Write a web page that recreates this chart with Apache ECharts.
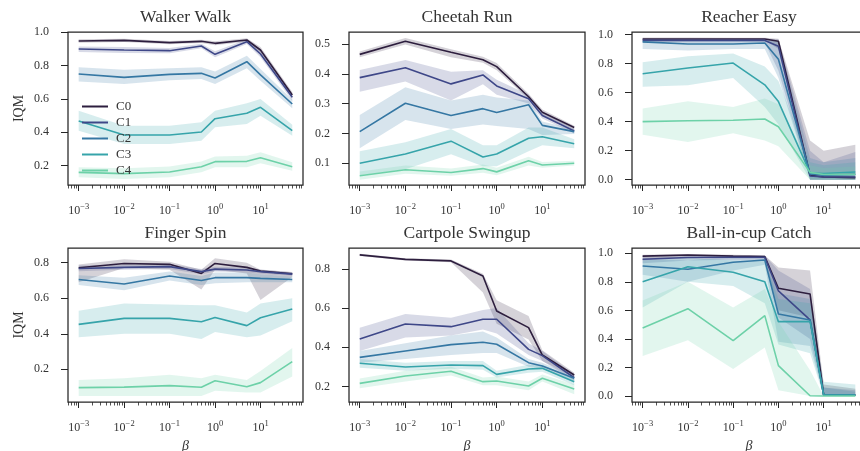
<!DOCTYPE html>
<html><head><meta charset="utf-8">
<script src="https://cdn.jsdelivr.net/npm/echarts@6/dist/echarts.min.js"></script>
<style>html,body{margin:0;padding:0;background:#fff}#c{width:860px;height:451px}</style>
</head><body><div id="c"></div><script>
// ---------- data ----------
const betas = [0.001, 0.01, 0.1, 0.5, 1, 5, 10, 50];
const seriesNames = ['C0', 'C1', 'C2', 'C3', 'C4'];
const panelTitles = ['Walker Walk', 'Cheetah Run', 'Reacher Easy', 'Finger Spin', 'Cartpole Swingup', 'Ball-in-cup Catch'];
const xTickExponents = [-3, -2, -1, 0, 1];
const yTicksWalker = [0.2, 0.4, 0.6, 0.8, 1.0];
const yTicksCheetah = [0.1, 0.2, 0.3, 0.4, 0.5];
const yTicksReacher = [0.0, 0.2, 0.4, 0.6, 0.8, 1.0];
const yTicksFinger = [0.2, 0.4, 0.6, 0.8];
const yTicksCartpole = [0.2, 0.4, 0.6, 0.8];
const yTicksBall = [0.0, 0.2, 0.4, 0.6, 0.8, 1.0];

// Walker Walk
const walkerMean = [
  [0.948, 0.952, 0.938, 0.946, 0.934, 0.954, 0.894, 0.624],
  [0.900, 0.894, 0.890, 0.918, 0.868, 0.944, 0.870, 0.610],
  [0.750, 0.730, 0.748, 0.754, 0.726, 0.824, 0.745, 0.570],
  [0.468, 0.384, 0.384, 0.402, 0.482, 0.514, 0.550, 0.410],
  [0.160, 0.152, 0.162, 0.194, 0.224, 0.226, 0.248, 0.194]];
const walkerLo = [
  [0.938, 0.942, 0.928, 0.936, 0.922, 0.944, 0.875, 0.605],
  [0.882, 0.876, 0.874, 0.904, 0.850, 0.930, 0.850, 0.590],
  [0.705, 0.690, 0.712, 0.720, 0.690, 0.785, 0.710, 0.545],
  [0.410, 0.330, 0.330, 0.350, 0.430, 0.450, 0.500, 0.380],
  [0.130, 0.120, 0.130, 0.160, 0.190, 0.190, 0.215, 0.170]];
const walkerHi = [
  [0.958, 0.962, 0.948, 0.956, 0.946, 0.964, 0.912, 0.642],
  [0.915, 0.912, 0.906, 0.932, 0.886, 0.958, 0.890, 0.630],
  [0.790, 0.775, 0.785, 0.790, 0.765, 0.860, 0.780, 0.595],
  [0.530, 0.440, 0.440, 0.460, 0.530, 0.575, 0.600, 0.445],
  [0.190, 0.185, 0.195, 0.225, 0.255, 0.260, 0.280, 0.220]];

// Cheetah Run
const cheetahMean = [
  [0.465, 0.509, 0.472, 0.447, 0.424, 0.323, 0.271, 0.220],
  [0.387, 0.420, 0.366, 0.396, 0.359, 0.316, 0.260, 0.208],
  [0.206, 0.301, 0.260, 0.283, 0.270, 0.296, 0.227, 0.206],
  [0.100, 0.131, 0.174, 0.121, 0.131, 0.184, 0.189, 0.165],
  [0.058, 0.078, 0.069, 0.082, 0.071, 0.108, 0.094, 0.100]];
const cheetahLo = [
  [0.455, 0.498, 0.455, 0.437, 0.412, 0.315, 0.262, 0.212],
  [0.340, 0.374, 0.310, 0.365, 0.330, 0.300, 0.250, 0.200],
  [0.150, 0.245, 0.215, 0.230, 0.225, 0.215, 0.195, 0.198],
  [0.060, 0.080, 0.130, 0.090, 0.090, 0.140, 0.160, 0.150],
  [0.045, 0.065, 0.058, 0.068, 0.060, 0.092, 0.085, 0.092]];
const cheetahHi = [
  [0.475, 0.520, 0.482, 0.457, 0.436, 0.333, 0.280, 0.226],
  [0.413, 0.446, 0.407, 0.412, 0.380, 0.330, 0.272, 0.216],
  [0.262, 0.355, 0.310, 0.330, 0.320, 0.310, 0.240, 0.214],
  [0.140, 0.170, 0.215, 0.160, 0.160, 0.220, 0.220, 0.180],
  [0.072, 0.092, 0.082, 0.096, 0.085, 0.122, 0.104, 0.108]];

// Reacher Easy
const reacherMean = [
  [0.970, 0.970, 0.970, 0.970, 0.954, 0.030, 0.018, 0.014],
  [0.960, 0.960, 0.960, 0.960, 0.920, 0.025, 0.018, 0.018],
  [0.950, 0.935, 0.935, 0.942, 0.830, 0.040, 0.030, 0.037],
  [0.730, 0.770, 0.804, 0.654, 0.538, 0.046, 0.042, 0.053],
  [0.400, 0.406, 0.409, 0.418, 0.365, 0.050, 0.035, 0.037]];
const reacherLo = [
  [0.960, 0.960, 0.962, 0.962, 0.900, 0.000, 0.000, 0.000],
  [0.945, 0.945, 0.945, 0.945, 0.750, 0.000, 0.000, 0.000],
  [0.900, 0.890, 0.900, 0.900, 0.700, 0.000, 0.000, 0.000],
  [0.640, 0.650, 0.700, 0.500, 0.380, 0.000, 0.000, 0.000],
  [0.310, 0.260, 0.320, 0.270, 0.230, 0.000, 0.000, 0.000]];
const reacherHi = [
  [0.980, 0.980, 0.978, 0.978, 0.972, 0.270, 0.200, 0.240],
  [0.972, 0.972, 0.972, 0.972, 0.968, 0.200, 0.120, 0.190],
  [0.970, 0.965, 0.965, 0.965, 0.950, 0.150, 0.120, 0.150],
  [0.810, 0.850, 0.870, 0.780, 0.680, 0.120, 0.100, 0.120],
  [0.490, 0.540, 0.500, 0.560, 0.520, 0.100, 0.080, 0.090]];

// Finger Spin
const fingerMean = [
  [0.772, 0.796, 0.791, 0.740, 0.796, 0.774, 0.753, 0.738],
  [0.768, 0.774, 0.778, 0.750, 0.764, 0.759, 0.750, 0.736],
  [0.706, 0.680, 0.725, 0.700, 0.716, 0.716, 0.712, 0.706],
  [0.453, 0.487, 0.487, 0.468, 0.492, 0.446, 0.490, 0.539],
  [0.097, 0.100, 0.108, 0.099, 0.136, 0.102, 0.125, 0.243]];
const fingerLo = [
  [0.690, 0.770, 0.760, 0.650, 0.760, 0.740, 0.590, 0.720],
  [0.752, 0.760, 0.765, 0.735, 0.750, 0.745, 0.738, 0.726],
  [0.675, 0.645, 0.700, 0.675, 0.685, 0.690, 0.690, 0.690],
  [0.380, 0.400, 0.400, 0.370, 0.410, 0.380, 0.390, 0.470],
  [0.050, 0.050, 0.050, 0.050, 0.080, 0.070, 0.070, 0.160]];
const fingerHi = [
  [0.790, 0.820, 0.805, 0.760, 0.825, 0.800, 0.760, 0.748],
  [0.784, 0.788, 0.791, 0.765, 0.778, 0.773, 0.762, 0.746],
  [0.730, 0.715, 0.750, 0.725, 0.745, 0.745, 0.735, 0.722],
  [0.530, 0.570, 0.565, 0.560, 0.560, 0.520, 0.570, 0.600],
  [0.140, 0.150, 0.170, 0.150, 0.170, 0.140, 0.190, 0.320]];

// Cartpole Swingup
const cartpoleMean = [
  [0.872, 0.849, 0.841, 0.764, 0.585, 0.500, 0.360, 0.258],
  [0.442, 0.519, 0.505, 0.543, 0.543, 0.389, 0.357, 0.244],
  [0.348, 0.381, 0.413, 0.425, 0.415, 0.321, 0.304, 0.241],
  [0.318, 0.299, 0.309, 0.306, 0.261, 0.289, 0.292, 0.224],
  [0.215, 0.253, 0.277, 0.224, 0.227, 0.202, 0.241, 0.186]];
const cartpoleLo = [
  [0.866, 0.843, 0.834, 0.680, 0.520, 0.440, 0.330, 0.245],
  [0.380, 0.450, 0.460, 0.490, 0.470, 0.360, 0.330, 0.230],
  [0.320, 0.340, 0.360, 0.370, 0.370, 0.300, 0.290, 0.225],
  [0.295, 0.280, 0.290, 0.285, 0.245, 0.270, 0.275, 0.205],
  [0.190, 0.225, 0.255, 0.205, 0.205, 0.180, 0.225, 0.160]];
const cartpoleHi = [
  [0.878, 0.855, 0.848, 0.775, 0.640, 0.560, 0.385, 0.270],
  [0.500, 0.570, 0.550, 0.590, 0.600, 0.420, 0.380, 0.260],
  [0.380, 0.420, 0.460, 0.480, 0.450, 0.340, 0.320, 0.255],
  [0.340, 0.320, 0.330, 0.330, 0.280, 0.310, 0.310, 0.240],
  [0.240, 0.280, 0.300, 0.245, 0.250, 0.225, 0.260, 0.210]];

// Ball-in-cup Catch
const ballMean = [
  [0.980, 0.988, 0.980, 0.977, 0.755, 0.715, 0.007, 0.007],
  [0.958, 0.970, 0.972, 0.972, 0.736, 0.533, 0.007, 0.007],
  [0.911, 0.888, 0.937, 0.953, 0.575, 0.533, 0.007, 0.007],
  [0.800, 0.906, 0.867, 0.800, 0.521, 0.521, 0.007, 0.007],
  [0.477, 0.612, 0.388, 0.563, 0.213, 0.002, 0.000, 0.000]];
const ballLo = [
  [0.950, 0.975, 0.965, 0.965, 0.600, 0.550, 0.000, 0.000],
  [0.930, 0.950, 0.955, 0.955, 0.550, 0.400, 0.000, 0.000],
  [0.850, 0.800, 0.880, 0.920, 0.380, 0.350, 0.000, 0.000],
  [0.620, 0.800, 0.770, 0.650, 0.360, 0.300, 0.000, 0.000],
  [0.280, 0.390, 0.190, 0.340, 0.040, 0.000, 0.000, 0.000]];
const ballHi = [
  [0.990, 0.995, 0.990, 0.985, 0.900, 0.880, 0.080, 0.050],
  [0.980, 0.985, 0.985, 0.985, 0.880, 0.750, 0.060, 0.040],
  [0.960, 0.950, 0.980, 0.980, 0.720, 0.680, 0.060, 0.030],
  [0.950, 0.970, 0.950, 0.950, 0.680, 0.650, 0.100, 0.080],
  [0.670, 0.800, 0.620, 0.750, 0.520, 0.180, 0.000, 0.000]];

// ---------- styling / layout ----------
const colors = ['#2d1e3e', '#3e4788', '#3577a3', '#36a4aa', '#6dd1a8'];
const FONT = '"Liberation Serif", "DejaVu Serif", serif';
const TXT = '#333333';
const FRAME = '#262626';
const panels = [
  {mean: walkerMean, lo: walkerLo, hi: walkerHi, ticks: yTicksWalker, min: 0.084, max: 1.002, left: 68, top: 32, width: 235, height: 153},
  {mean: cheetahMean, lo: cheetahLo, hi: cheetahHi, ticks: yTicksCheetah, min: 0.027, max: 0.540, left: 349, top: 32, width: 236, height: 153},
  {mean: reacherMean, lo: reacherLo, hi: reacherHi, ticks: yTicksReacher, min: -0.037, max: 1.018, left: 632, top: 32, width: 234, height: 153},
  {mean: fingerMean, lo: fingerLo, hi: fingerHi, ticks: yTicksFinger, min: 0.016, max: 0.883, left: 68, top: 248, width: 235, height: 154},
  {mean: cartpoleMean, lo: cartpoleLo, hi: cartpoleHi, ticks: yTicksCartpole, min: 0.12, max: 0.907, left: 349, top: 248, width: 236, height: 154},
  {mean: ballMean, lo: ballLo, hi: ballHi, ticks: yTicksBall, min: -0.042, max: 1.037, left: 632, top: 248, width: 234, height: 154}
];
const XMIN = -3.235, XMAX = 1.935;
const logX = betas.map(b => Math.log10(b));
const minorTicks = [];
for (let d = -4; d <= 1; d++) {
  for (let k = 2; k <= 9; k++) {
    const v = Math.log10(k * Math.pow(10, d));
    if (v > XMIN && v < XMAX) minorTicks.push(v);
  }
}
const supMap = {'-': '\u2212', '0': '0', '1': '1', '2': '2', '3': '3'};

const grid = [], xAxis = [], yAxis = [], series = [], title = [];
panels.forEach((p, i) => {
  grid.push({left: p.left, top: p.top, width: p.width, height: p.height, show: true,
    borderColor: FRAME, borderWidth: 1.25, backgroundColor: 'transparent', containLabel: false,
    outerBoundsMode: 'none'});
  title.push({text: panelTitles[i], left: p.left + p.width / 2, top: p.top - 24,
    textAlign: 'center', padding: 0,
    textStyle: {fontFamily: FONT, fontSize: 17.5, fontWeight: 'normal', color: TXT}});
  const bottomRow = i >= 3;
  // major x axis
  xAxis.push({type: 'value', gridIndex: i, min: XMIN, max: XMAX, position: 'bottom',
    name: bottomRow ? '\u03b2' : '', nameLocation: 'middle', nameGap: 37,
    nameTextStyle: {fontFamily: FONT, fontSize: 14, fontStyle: 'italic', color: TXT},
    axisLine: {show: false, onZero: false},
    splitLine: {show: false},
    axisTick: {show: true, length: 6, lineStyle: {color: FRAME, width: 1}, customValues: xTickExponents},
    axisLabel: {show: true, margin: 19, customValues: xTickExponents,
      formatter: v => '{b|10}{s|' + String(Math.round(v)).split('').map(c => supMap[c]).join('') + '}',
      rich: {b: {fontFamily: FONT, fontSize: 12, color: TXT, lineHeight: 14},
             s: {fontFamily: FONT, fontSize: 8.5, color: TXT, lineHeight: 10, padding: [0, 0, 8, 0]}}}
  });
  // minor x ticks
  xAxis.push({type: 'value', gridIndex: i, min: XMIN, max: XMAX, position: 'bottom',
    axisLine: {show: false, onZero: false}, splitLine: {show: false},
    axisTick: {show: true, length: 3.5, lineStyle: {color: FRAME, width: 0.8}, customValues: minorTicks},
    axisLabel: {show: false}});
  yAxis.push({type: 'value', gridIndex: i, min: p.min, max: p.max, position: 'left',
    name: (i % 3 === 0) ? 'IQM' : '', nameLocation: 'middle', nameGap: 42, nameRotate: 90,
    nameTextStyle: {fontFamily: FONT, fontSize: 14, color: TXT},
    axisLine: {show: false, onZero: false}, splitLine: {show: false},
    axisTick: {show: true, length: 7, lineStyle: {color: FRAME, width: 1}, customValues: p.ticks},
    axisLabel: {show: true, margin: 19, customValues: p.ticks, formatter: v => v.toFixed(1),
      fontFamily: FONT, fontSize: 12, color: TXT}});
  const xi = i * 2;
  // bands
  seriesNames.forEach((nm, s) => {
    const lo = p.lo[s], hi = p.hi[s];
    series.push({type: 'custom', name: nm + ' band', xAxisIndex: xi, yAxisIndex: i, z: 1, silent: true,
      data: logX.map((x, k) => [x, lo[k], hi[k]]),
      encode: {x: 0, y: [1, 2]},
      renderItem: (params, api) => {
        if (params.dataIndex !== 0) return null;
        const pts = [];
        for (let k = 0; k < logX.length; k++) pts.push(api.coord([logX[k], hi[k]]));
        for (let k = logX.length - 1; k >= 0; k--) pts.push(api.coord([logX[k], lo[k]]));
        return {type: 'polygon', shape: {points: pts}, style: {fill: colors[s], opacity: 0.2}};
      }});
  });
  // lines
  seriesNames.forEach((nm, s) => {
    series.push({type: 'line', name: nm, xAxisIndex: xi, yAxisIndex: i, z: 3,
      data: logX.map((x, k) => [x, p.mean[s][k]]),
      showSymbol: false, symbol: 'none', animation: false, silent: true,
      lineStyle: {color: colors[s], width: 1.6}, itemStyle: {color: colors[s]}});
  });
});

const chart = echarts.init(document.getElementById('c'), null, {renderer: 'canvas'});
chart.setOption({
  animation: false,
  backgroundColor: '#ffffff',
  title, grid, xAxis, yAxis, series,
  legend: {data: seriesNames, orient: 'vertical', left: 77, top: 95, itemWidth: 26, itemHeight: 2,
    itemGap: 3, icon: 'rect', selectedMode: false,
    textStyle: {fontFamily: FONT, fontSize: 13, color: TXT, padding: [0, 0, 0, 3]}}
});
</script></body></html>
